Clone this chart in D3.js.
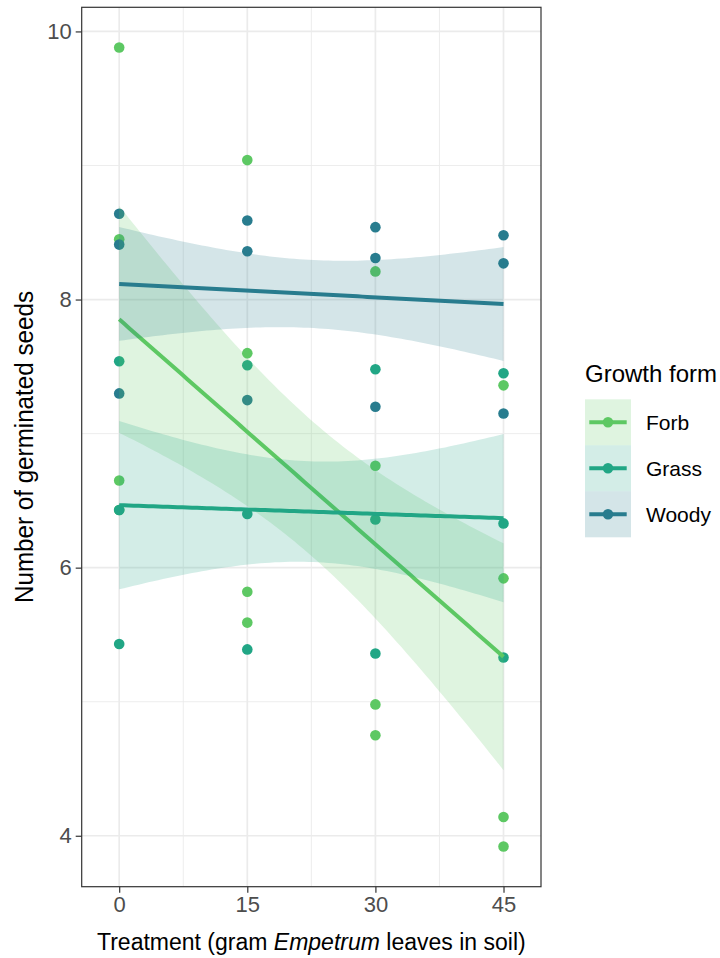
<!DOCTYPE html>
<html>
<head>
<meta charset="utf-8">
<script src="https://cdn.jsdelivr.net/npm/d3@7"></script>
<style>
  body { margin: 0; background: #fff; }
  text { font-family: "Liberation Sans", Arial, sans-serif; }
</style>
</head>
<body>
<svg id="chart"></svg>
<script>
// treatment levels (gram Empetrum leaves in soil)
var treatments = [0, 15, 30, 45];

// germinated seeds per growth form, x and y
var forbX  = [0, 0, 0, 0, 15, 15, 15, 15, 30, 30, 30, 30, 45, 45, 45, 45];
var forbY  = [9.88, 8.45, 6.65, 6.43, 9.04, 7.60, 5.82, 5.59, 8.21, 6.76, 4.98, 4.75, 7.36, 5.92, 4.14, 3.92];
var grassX = [0, 0, 0, 15, 15, 15, 30, 30, 30, 45, 45, 45];
var grassY = [7.54, 6.43, 5.43, 7.51, 6.40, 5.39, 7.48, 6.36, 5.36, 7.45, 6.33, 5.33];
var woodyX = [0, 0, 0, 15, 15, 15, 30, 30, 30, 45, 45, 45];
var woodyY = [8.64, 8.41, 7.30, 8.59, 8.36, 7.25, 8.54, 8.31, 7.20, 8.48, 8.27, 7.15];

var groupNames = ["Forb", "Grass", "Woody"];
var yTicks = [4, 6, 8, 10];
var yMinor = [5, 7, 9];
var xMinor = [7.5, 22.5, 37.5];

var colors = {"Forb": "#5DC863", "Grass": "#21A685", "Woody": "#287C8E"};

var groups = [
  {name: "Forb", x: forbX, y: forbY},
  {name: "Grass", x: grassX, y: grassY},
  {name: "Woody", x: woodyX, y: woodyY}
];

// the band width matches an ~80% interval of a plain lm fit
var tCrit = {10: 1.372, 14: 1.345};

var WIDTH = 720, HEIGHT = 958;
var P = {left: 81.7, right: 541, top: 7.3, bottom: 886.7};

var svg = d3.select("#chart").attr("width", WIDTH).attr("height", HEIGHT);

var xScale = d3.scaleLinear().domain([-4.39, 49.39]).range([P.left, P.right]);
var yScale = d3.scaleLinear().domain([3.62, 10.18]).range([P.bottom, P.top]);

// grid
var grid = svg.append("g");
grid.selectAll(".ymin").data(yMinor).enter().append("line")
  .attr("x1", P.left).attr("x2", P.right)
  .attr("y1", function (d) { return yScale(d); }).attr("y2", function (d) { return yScale(d); })
  .attr("stroke", "#EBEBEB").attr("stroke-width", 0.9);
grid.selectAll(".xmin").data(xMinor).enter().append("line")
  .attr("y1", P.top).attr("y2", P.bottom)
  .attr("x1", function (d) { return xScale(d); }).attr("x2", function (d) { return xScale(d); })
  .attr("stroke", "#EBEBEB").attr("stroke-width", 0.9);
grid.selectAll(".ymaj").data(yTicks).enter().append("line")
  .attr("x1", P.left).attr("x2", P.right)
  .attr("y1", function (d) { return yScale(d); }).attr("y2", function (d) { return yScale(d); })
  .attr("stroke", "#EBEBEB").attr("stroke-width", 1.7);
grid.selectAll(".xmaj").data(treatments).enter().append("line")
  .attr("y1", P.top).attr("y2", P.bottom)
  .attr("x1", function (d) { return xScale(d); }).attr("x2", function (d) { return xScale(d); })
  .attr("stroke", "#EBEBEB").attr("stroke-width", 1.7);

// points first, smooths drawn on top
groups.forEach(function (g) {
  svg.append("g").selectAll("circle")
    .data(g.x.map(function (x, i) { return {x: x, y: g.y[i]}; }))
    .enter().append("circle")
    .attr("cx", function (d) { return xScale(d.x); })
    .attr("cy", function (d) { return yScale(d.y); })
    .attr("r", 5.3)
    .attr("fill", colors[g.name]);
});

function fitLm(xs, ys) {
  var n = xs.length;
  var mx = d3.mean(xs), my = d3.mean(ys);
  var sxx = 0, sxy = 0;
  for (var i = 0; i < n; i++) {
    sxx += (xs[i] - mx) * (xs[i] - mx);
    sxy += (xs[i] - mx) * (ys[i] - my);
  }
  var b = sxy / sxx, a = my - b * mx;
  var sse = 0;
  for (var j = 0; j < n; j++) {
    var r = ys[j] - (a + b * xs[j]);
    sse += r * r;
  }
  var s = Math.sqrt(sse / (n - 2));
  var t = tCrit[n - 2];
  var pts = d3.range(0, 80).map(function (k) {
    var x = 45 * k / 79;
    var fit = a + b * x;
    var se = s * Math.sqrt(1 / n + (x - mx) * (x - mx) / sxx);
    return {x: x, fit: fit, lo: fit - t * se, hi: fit + t * se};
  });
  return pts;
}

var area = d3.area()
  .x(function (d) { return xScale(d.x); })
  .y0(function (d) { return yScale(d.lo); })
  .y1(function (d) { return yScale(d.hi); });

var line = d3.line()
  .x(function (d) { return xScale(d.x); })
  .y(function (d) { return yScale(d.fit); });

groups.forEach(function (g) {
  var pts = fitLm(g.x, g.y);
  svg.append("path")
    .attr("d", area(pts))
    .attr("fill", colors[g.name])
    .attr("fill-opacity", 0.2);
  svg.append("path")
    .attr("d", line(pts))
    .attr("fill", "none")
    .attr("stroke", colors[g.name])
    .attr("stroke-width", 4);
});

// panel border
svg.append("rect")
  .attr("x", P.left).attr("y", P.top)
  .attr("width", P.right - P.left).attr("height", P.bottom - P.top)
  .attr("fill", "none").attr("stroke", "#333333").attr("stroke-width", 1.2);

// axes
var xAxis = svg.append("g")
  .attr("transform", "translate(0," + P.bottom + ")")
  .call(d3.axisBottom(xScale).tickValues(treatments).tickSize(6).tickPadding(4));
var yAxis = svg.append("g")
  .attr("transform", "translate(" + P.left + ",0)")
  .call(d3.axisLeft(yScale).tickValues(yTicks).tickFormat(d3.format("d")).tickSize(6).tickPadding(4));

[xAxis, yAxis].forEach(function (ax) {
  ax.select(".domain").remove();
  ax.selectAll(".tick line").attr("stroke", "#333333").attr("stroke-width", 1.2);
  ax.selectAll(".tick text")
    .attr("fill", "#4D4D4D")
    .style("font-size", "22px")
    .style("font-family", "Liberation Sans, Arial, sans-serif");
});

// axis titles
var xTitle = svg.append("text")
  .attr("x", (P.left + P.right) / 2)
  .attr("y", 950)
  .attr("text-anchor", "middle")
  .style("font-size", "23px")
  .attr("fill", "#000");
xTitle.append("tspan").text("Treatment (gram ");
xTitle.append("tspan").style("font-style", "italic").text("Empetrum");
xTitle.append("tspan").text(" leaves in soil)");

svg.append("text")
  .attr("transform", "translate(33," + ((P.top + P.bottom) / 2) + ") rotate(-90)")
  .attr("text-anchor", "middle")
  .attr("textLength", 312)
  .attr("lengthAdjust", "spacingAndGlyphs")
  .style("font-size", "26px")
  .attr("fill", "#000")
  .text("Number of germinated seeds");

// legend
var legend = svg.append("g").attr("transform", "translate(585,399.3)");
legend.append("text")
  .attr("x", 0).attr("y", -17.6)
  .attr("textLength", 132)
  .attr("lengthAdjust", "spacingAndGlyphs")
  .style("font-size", "24px")
  .attr("fill", "#000")
  .text("Growth form");

var keyH = 46;
var keys = legend.selectAll(".key").data(groupNames).enter().append("g")
  .attr("transform", function (d, i) { return "translate(0," + (i * keyH) + ")"; });
keys.append("rect")
  .attr("width", 46).attr("height", keyH)
  .attr("fill", function (d) { return colors[d]; })
  .attr("fill-opacity", 0.2);
keys.append("line")
  .attr("x1", 4.3).attr("x2", 41.7)
  .attr("y1", keyH / 2).attr("y2", keyH / 2)
  .attr("stroke", function (d) { return colors[d]; })
  .attr("stroke-width", 4);
keys.append("circle")
  .attr("cx", 23).attr("cy", keyH / 2).attr("r", 5.3)
  .attr("fill", function (d) { return colors[d]; });
keys.append("text")
  .attr("x", 61).attr("y", keyH / 2 + 7.6)
  .style("font-size", "21px")
  .attr("fill", "#000")
  .text(function (d) { return d; });
</script>
</body>
</html>
